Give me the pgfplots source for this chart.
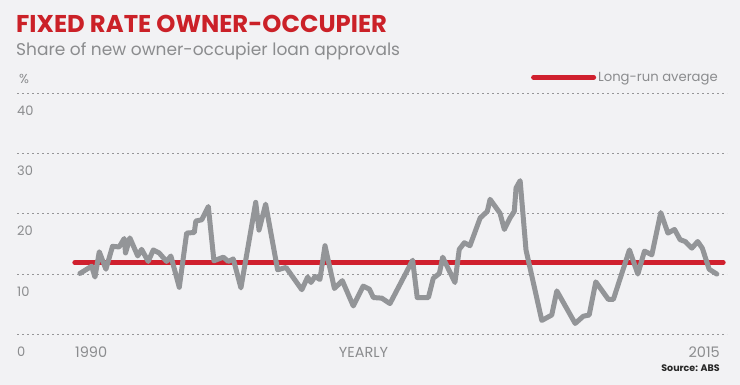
\documentclass[border=0pt]{standalone}
\usepackage{pgfplots}
\pgfplotsset{compat=1.18}
\usepackage{fontspec}
\setmainfont{Poppins}
\definecolor{bg}{RGB}{242,242,244}
\definecolor{titlered}{RGB}{203,33,40}
\definecolor{avgred}{RGB}{208,32,46}
\definecolor{linegray}{RGB}{147,149,152}
\definecolor{textgray}{RGB}{139,140,142}
\definecolor{gridgray}{RGB}{150,150,152}
\begin{document}
\begin{tikzpicture}
\fill[bg] (0bp,0bp) rectangle (740bp,385bp);
\node[anchor=base west, inner sep=0pt, text=titlered, font=\fontsize{24.3bp}{28bp}\selectfont\bfseries] at (16bp,352.3bp) {FIXED RATE OWNER-OCCUPIER};
\node[anchor=base west, inner sep=0pt, text=textgray, font=\fontsize{17bp}{21bp}\selectfont] at (16bp,329bp) {Share of new owner-occupier loan approvals};
\node[anchor=base west, inner sep=0pt, text=textgray, font=\fontsize{13bp}{15bp}\selectfont] at (19bp,301bp) {\%};
\begin{axis}[
  at={(17bp,50.7bp)}, anchor=south west, scale only axis,
  width=710bp, height=241bp,
  xmin=1987.53, xmax=2015.40, ymin=0, ymax=40,
  axis line style={draw=none},
  major tick length=0pt,
  xtick=\empty,
  ytick={0,10,20,30,40},
  ymajorgrids,
  grid style={dash pattern=on 2bp off 3bp, line width=0.9bp, color=gridgray},
  /pgf/number format/assume math mode=true,
  yticklabel style={font=\fontsize{13bp}{15bp}\selectfont, text=textgray, anchor=west, inner sep=0pt, yshift=-17.3bp},
  clip=false,
  legend style={at={(0.990,1.066)}, anchor=east, draw=none, fill=none, inner sep=0pt,
    font=\fontsize{13.2bp}{16bp}\selectfont, text=textgray},
  legend image code/.code={\draw[#1, line cap=round] (2.5bp,0bp) -- (45.5bp,0bp); \path (0bp,0bp) -- (60bp,0bp);},
]
\addplot[avgred, line width=5bp, line cap=round] coordinates {(1989.80,11.9) (2015.25,11.9)};
\addlegendentry{Long-run average}
\addplot[forget plot, linegray, line width=5bp, line join=round, line cap=round] coordinates {
(1990.00,10.1) (1990.46,11.3) (1990.59,9.5) (1990.76,13.7) (1991.02,10.8)
(1991.28,14.6) (1991.54,14.5) (1991.74,15.9) (1991.79,13.5) (1991.96,16.0)
(1992.27,13.0) (1992.42,14.1) (1992.68,12.1) (1992.88,14.0) (1993.11,13.5)
(1993.40,12.1) (1993.57,13.0) (1993.90,7.8) (1994.19,16.8) (1994.49,16.9)
(1994.55,18.8) (1994.78,19.0) (1995.04,21.2) (1995.26,12.2) (1995.63,12.8)
(1995.82,12.1) (1996.02,12.5) (1996.32,7.7) (1996.90,21.9) (1997.03,17.3)
(1997.29,21.6) (1997.76,10.7) (1998.09,11.1) (1998.71,7.4) (1998.94,9.5)
(1999.07,8.6) (1999.23,9.6) (1999.42,9.1) (1999.62,14.7) (1999.99,7.6)
(2000.30,8.9) (2000.73,4.7) (2001.12,8.0) (2001.36,7.5) (2001.52,6.1)
(2001.85,6.0) (2002.17,5.1) (2003.06,12.3) (2003.24,6.1) (2003.68,6.1)
(2003.87,9.3) (2004.11,10.1) (2004.24,12.8) (2004.72,8.6) (2004.89,14.1)
(2005.09,15.2) (2005.31,14.7) (2005.71,19.3) (2005.99,20.4) (2006.10,22.4)
(2006.49,20.1) (2006.66,17.4) (2006.88,19.3) (2007.05,20.4) (2007.12,24.3)
(2007.28,25.5) (2007.51,14.0) (2008.13,2.3) (2008.52,3.2) (2008.72,7.2)
(2009.44,1.8) (2009.76,3.0) (2009.99,3.2) (2010.25,8.7) (2010.74,5.8)
(2010.94,5.8) (2011.27,10.1) (2011.57,14.0) (2011.90,10.0) (2012.16,13.8)
(2012.45,13.2) (2012.80,20.2) (2013.08,16.8) (2013.34,17.4) (2013.56,15.7)
(2013.76,15.4) (2014.02,14.3) (2014.25,15.4) (2014.43,14.3) (2014.70,10.8)
(2015.00,10.0)
};
\end{axis}
\node[anchor=base west, inner sep=0pt, text=textgray, font=\fontsize{14.5bp}{17bp}\selectfont] at (75bp,27.3bp) {1990};
\node[anchor=base, inner sep=0pt, text=textgray, font=\fontsize{14.5bp}{17bp}\selectfont] at (363.5bp,27.3bp) {YEARLY};
\node[anchor=base east, inner sep=0pt, text=textgray, font=\fontsize{14.5bp}{17bp}\selectfont] at (720bp,27.3bp) {2015};
\node[anchor=base east, inner sep=0pt, text=black!85, font=\fontsize{9.5bp}{11bp}\selectfont\bfseries] at (720bp,13.3bp) {Source: ABS};
\end{tikzpicture}
\end{document}
